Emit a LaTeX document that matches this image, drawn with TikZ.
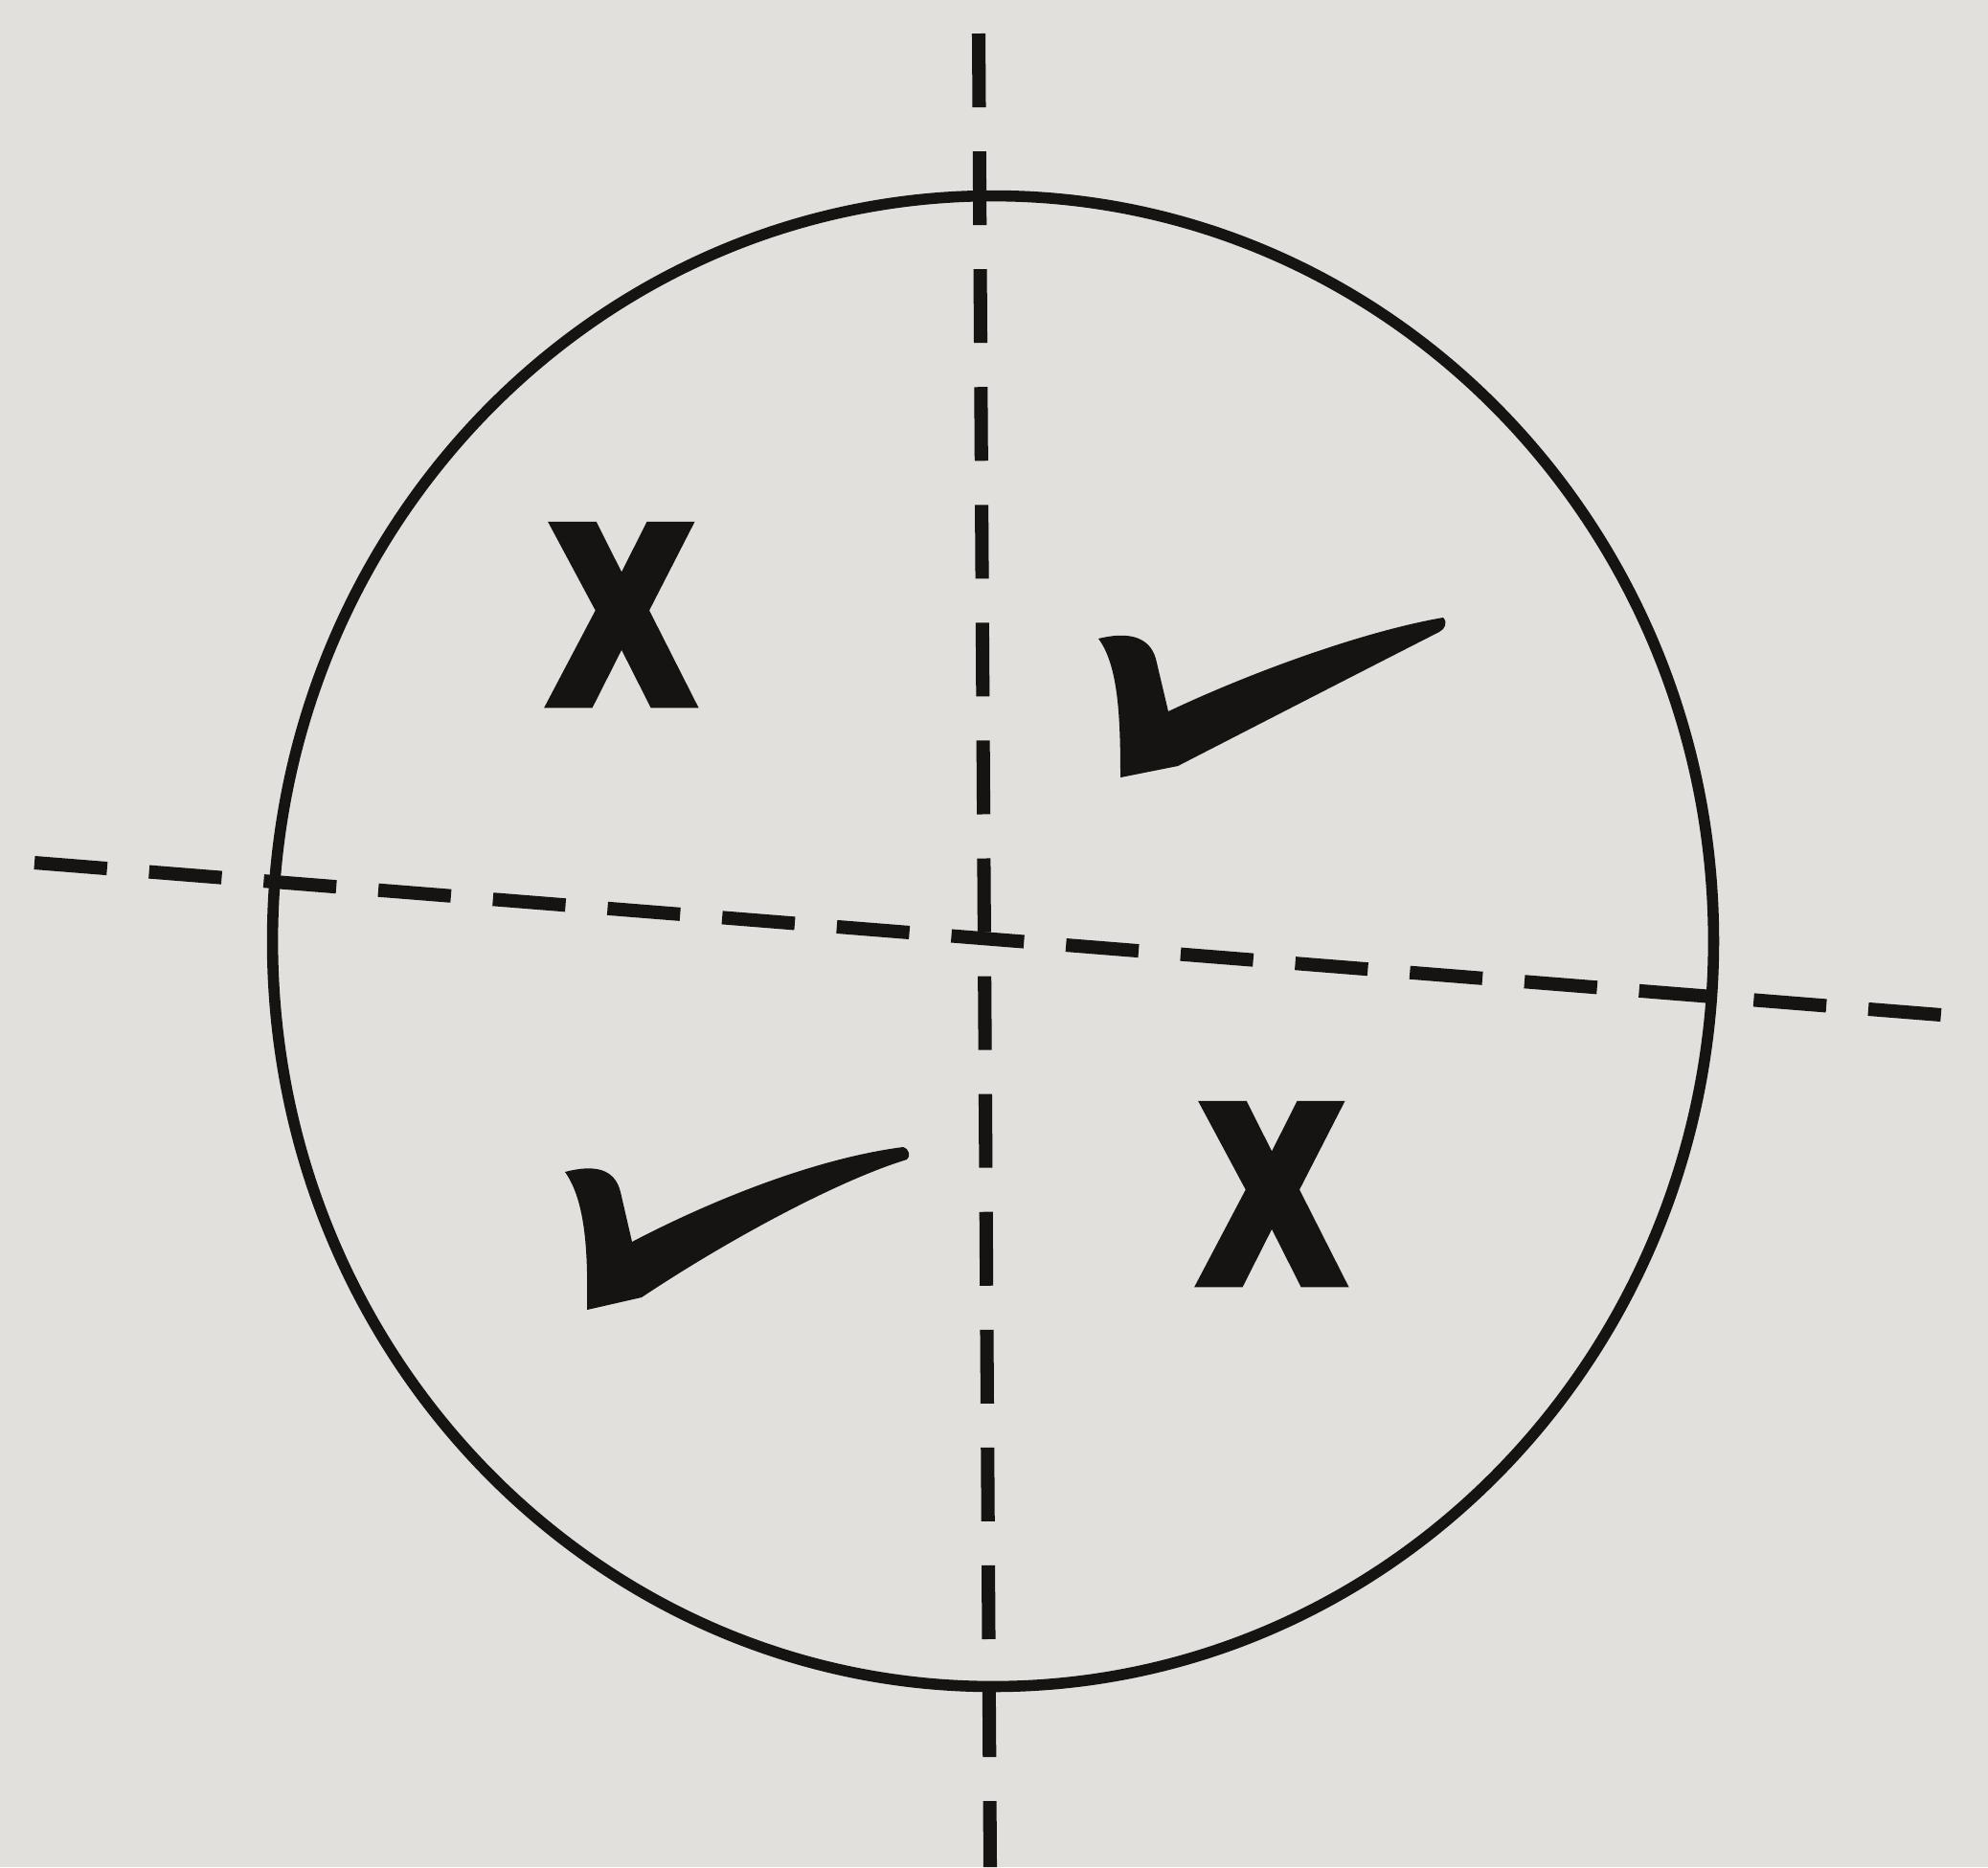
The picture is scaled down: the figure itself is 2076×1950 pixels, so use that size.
\documentclass[tikz,border=0pt]{standalone}
\usepackage{fontspec}
\newfontfamily\markfont[FakeBold=8]{Liberation Sans Bold}
\definecolor{paper}{RGB}{226,224,220}
\definecolor{ink}{RGB}{22,20,18}
\begin{document}
\begin{tikzpicture}[x=0.01cm,y=-0.01cm,
  vaxis/.style={draw=ink,line width=4pt,dash pattern=on 0.77cm off 0.46cm},
  haxis/.style={draw=ink,line width=4pt,dash pattern=on 0.76cm off 0.44cm},
  rim/.style={draw=ink,line width=3.3pt},
  cross/.style={font=\markfont\fontsize{72}{74}\selectfont,text=ink,inner sep=0pt,xscale=0.8},
  tick/.style={fill=ink,draw=none}]
\fill[paper] (0,0) rectangle (2076,1950);
\useasboundingbox (0,0) rectangle (2076,1950);
% circle
\draw[rim] (1037,983) ellipse [x radius=7.52cm, y radius=7.78cm];
% axes
\coordinate (vt) at (1022,35);
\coordinate (vb) at (1034,1950);
\coordinate (hl) at (36,901);
\coordinate (hr) at (2027,1060);
\draw[vaxis] (vt) -- (vb);
\draw[haxis] (hl) -- (hr);
% crosses
\node[cross] (x1) at (649,642) {X};
\node[cross] (x2) at (1328,1247) {X};
% ticks
\fill[tick] (1147,667) .. controls (1175,660) and (1200,663) .. (1207,688)
  -- (1220,743) .. controls (1300,705) and (1420,660) .. (1507,645)
  .. controls (1512,650) and (1509,657) .. (1503,660)
  .. controls (1440,692) and (1300,764) .. (1230,800)
  -- (1170,812) .. controls (1170,750) and (1168,695) .. cycle;
\fill[tick] (590,1224) .. controls (620,1216) and (642,1220) .. (648,1245)
  -- (660,1297) .. controls (740,1255) and (850,1210) .. (943,1198)
  .. controls (950,1200) and (951,1208) .. (947,1211)
  .. controls (875,1233) and (760,1295) .. (670,1355)
  -- (613,1368) .. controls (614,1310) and (612,1255) .. cycle;
\end{tikzpicture}
\end{document}
